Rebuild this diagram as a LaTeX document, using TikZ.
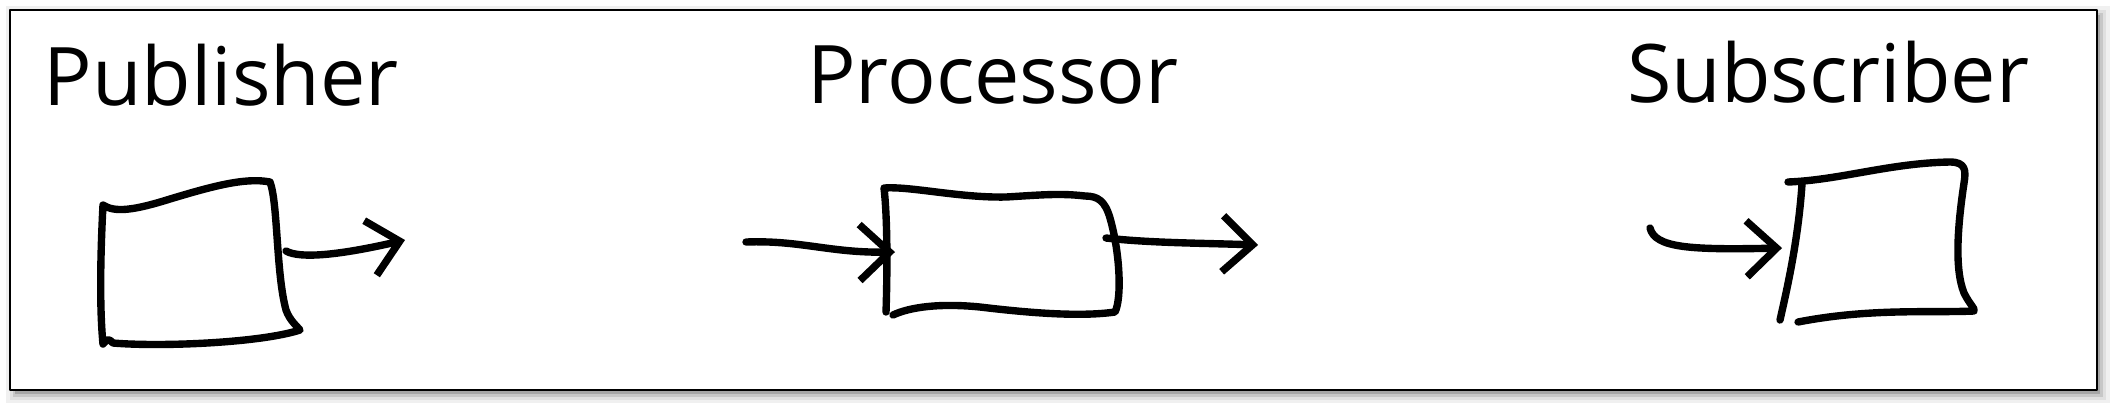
\documentclass[tikz,border=0pt]{standalone}
\usepackage{fontspec}
\setmainfont{Open Sans}
\usetikzlibrary{arrows.meta}

\begin{document}
\begin{tikzpicture}[
  x=1cm,y=1cm,
  line cap=round,
  line join=round,
  pen/.style={draw=black,line width=2.1pt},
  wire/.style={pen,-{Straight Barb[length=3mm,width=5.6mm]}},
  title/.style={font=\fontsize{23}{27}\selectfont,anchor=base,inner sep=0pt}
]
  \useasboundingbox (0,0) rectangle (21.11,4.03);

  % Frame with soft shadow
  \fill[black!6]  (0.06,0.00) rectangle (21.10,3.97);
  \fill[black!12] (0.10,0.03) rectangle (21.06,3.93);
  \fill[black!22] (0.13,0.06) rectangle (21.03,3.90);
  \fill[black!35] (0.15,0.09) rectangle (21.00,3.88);
  \draw[fill=white,line width=0.5pt] (0.10,0.13) rectangle (20.97,3.93);

  % Titles
  \node[title] (pub)  at ( 2.21,2.98) {Publisher};
  \node[title] (proc) at ( 9.93,3.00) {Processor};
  \node[title] (sub)  at (18.28,3.01) {Subscriber};

  % Publisher box
  \draw[pen] (1.03,1.98)
    .. controls (1.15,1.90) and (1.35,1.93) .. (1.70,2.04)
    .. controls (2.10,2.16) and (2.45,2.26) .. (2.70,2.21)
    .. controls (2.78,2.00) and (2.76,1.30) .. (2.86,0.93)
    .. controls (2.90,0.82) and (2.97,0.77) .. (3.00,0.73)
    .. controls (2.60,0.60) and (1.60,0.56) .. (1.13,0.60)
    .. controls (1.09,0.64) and (1.08,0.65) .. (1.03,0.59)
    .. controls (0.99,1.00) and (1.01,1.60) .. (1.03,1.98);

  % Processor box
  \draw[pen] (8.93,0.88)
    .. controls (9.10,0.96) and (9.40,1.00) .. (9.80,0.96)
    .. controls (10.30,0.90) and (10.80,0.86) .. (11.15,0.91)
    .. controls (11.22,1.05) and (11.20,1.50) .. (11.10,1.85)
    .. controls (11.05,2.02) and (10.98,2.07) .. (10.85,2.07)
    .. controls (10.60,2.10) and (10.40,2.08) .. (10.06,2.06)
    .. controls (9.60,2.05) and (9.10,2.17) .. (8.84,2.15)
    .. controls (8.88,1.80) and (8.87,1.20) .. (8.86,0.91);

  % Subscriber box
  \draw[pen] (17.88,2.21)
    .. controls (18.40,2.23) and (18.90,2.40) .. (19.50,2.41)
    .. controls (19.66,2.41) and (19.66,2.32) .. (19.64,2.20)
    .. controls (19.58,1.80) and (19.54,1.35) .. (19.64,1.10)
    .. controls (19.70,0.98) and (19.75,0.95) .. (19.74,0.92)
    .. controls (19.30,0.90) and (18.70,0.95) .. (17.98,0.81);
  \draw[pen] (18.02,2.19) .. controls (17.98,1.60) and (17.86,1.10) .. (17.80,0.83);

  % Connectors
  \coordinate (pubout)  at ( 2.86,1.52);
  \coordinate (pubtip)  at ( 4.05,1.63);
  \coordinate (procin)  at ( 7.46,1.61);
  \coordinate (proclft) at ( 8.95,1.51);
  \coordinate (procout) at (11.06,1.65);
  \coordinate (proctip) at (12.58,1.58);
  \coordinate (subin)   at (16.50,1.75);
  \coordinate (sublft)  at (17.82,1.55);

  \draw[wire] (pubout) .. controls (3.00,1.44) and (3.40,1.48) .. (pubtip);
  \draw[wire] (procin) .. controls (8.00,1.63) and (8.30,1.50) .. (proclft);
  \draw[wire] (procout) .. controls (11.50,1.60) and (12.00,1.60) .. (proctip);
  \draw[wire] (subin) .. controls (16.55,1.55) and (16.90,1.53) .. (sublft);
\end{tikzpicture}
\end{document}
